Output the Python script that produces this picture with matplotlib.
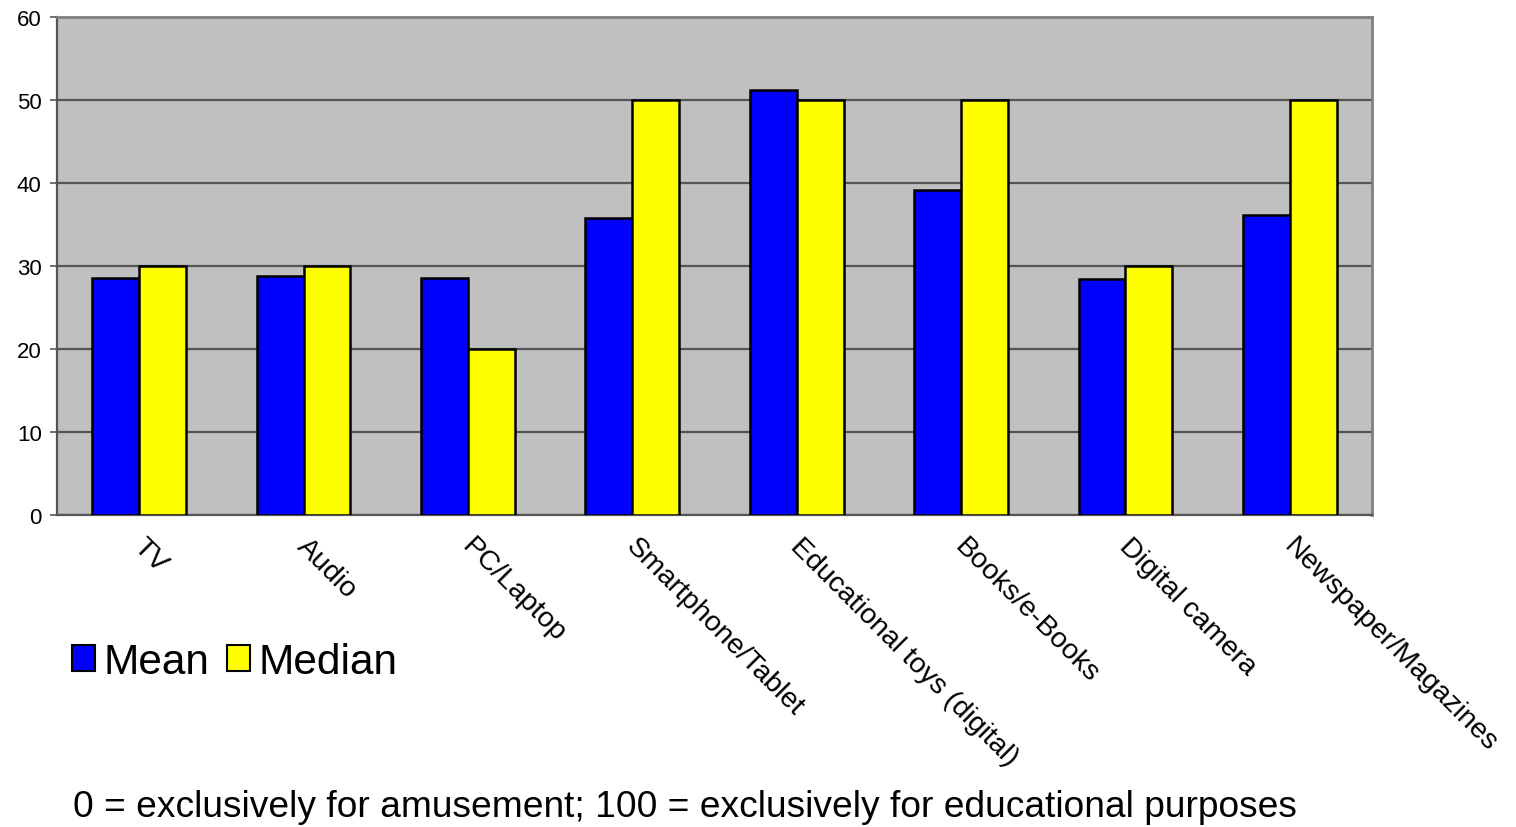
import matplotlib
matplotlib.use("Agg")
import matplotlib.pyplot as plt
import matplotlib.transforms as mtransforms
import numpy as np
from matplotlib.patches import Patch

plt.rcParams['font.family'] = ['Liberation Sans', 'DejaVu Sans']

categories = ["TV", "Audio", "PC/Laptop", "Smartphone/Tablet",
              "Educational toys (digital)", "Books/e-Books",
              "Digital camera", "Newspaper/Magazines"]
mean_values = [28.5, 28.75, 28.6, 35.8, 51.25, 39.1, 28.4, 36.1]
median_values = [30, 30, 20, 50, 50, 50, 30, 50]
y_ticks = [0, 10, 20, 30, 40, 50, 60]
series_names = ["Mean", "Median"]
footnote = "0 = exclusively for amusement; 100 = exclusively for educational purposes"

W, H = 1516, 828
fig = plt.figure(figsize=(W / 100, H / 100), dpi=100)
ax = fig.add_axes([57 / W, 1 - 516 / H, (1372 - 57) / W, (516 - 18) / H])
ax.set_facecolor("#C0C0C0")

x = np.arange(len(categories))
bw = 0.285
ax.bar(x - bw / 2, mean_values, width=bw, color="#0000FF",
       edgecolor="black", linewidth=1.8, zorder=3)
ax.bar(x + bw / 2, median_values, width=bw, color="#FFFF00",
       edgecolor="black", linewidth=1.8, zorder=3)

ax.set_xlim(-0.5, len(categories) - 0.5)
ax.set_ylim(0, 60)
ax.set_yticks(y_ticks)
ax.set_yticklabels([str(t) for t in y_ticks], fontsize=16)
ax.yaxis.grid(True, color="#555555", linewidth=1.6, zorder=1)
ax.set_axisbelow(True)
ax.tick_params(axis="y", direction="out", length=5, width=1.2,
               color="#555555", pad=6)

ax.set_xticks(x)
ax.set_xticklabels(categories, fontsize=20.5, rotation=-45,
                   ha="left", va="top", rotation_mode="anchor")
ax.tick_params(axis="x", length=0, pad=13)
shift = mtransforms.ScaledTranslation(7 / 100, 0, fig.dpi_scale_trans)
for lbl in ax.get_xticklabels():
    lbl.set_transform(lbl.get_transform() + shift)

for side in ["left", "bottom"]:
    ax.spines[side].set_color("#555555")
    ax.spines[side].set_linewidth(1.6)
for side in ["top", "right"]:
    ax.spines[side].set_color("#808080")
    ax.spines[side].set_linewidth(2.0)

handles = [Patch(facecolor="#0000FF", edgecolor="black", linewidth=1.5),
           Patch(facecolor="#FFFF00", edgecolor="black", linewidth=1.5)]
fig.legend(handles, series_names, loc="center left",
           bbox_to_anchor=(51 / W, 1 - 663 / H), ncol=2, frameon=False,
           fontsize=30.5, handlelength=0.55, handleheight=0.55,
           handletextpad=0.2, columnspacing=0.4, borderpad=0)

fig.text(73 / W, 1 - 808 / H, footnote, fontsize=26.7, ha="left", va="center")

fig.savefig("out.png", dpi=100)
